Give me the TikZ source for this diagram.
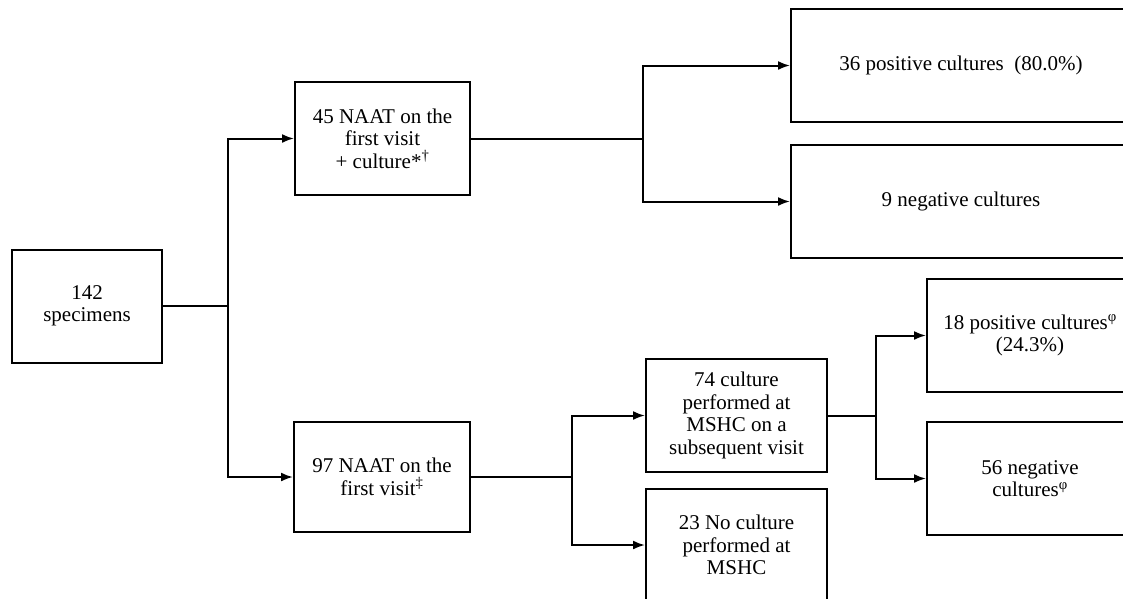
\documentclass[tikz,border=0pt]{standalone}
\usepackage{fontspec}
\setmainfont{Liberation Serif}
\usetikzlibrary{arrows.meta}
\tikzset{
  box/.style={draw, line width=2pt, align=center, inner sep=2pt,
    font=\fontsize{21}{22.5}\selectfont},
  link/.style={line width=2pt},
  arr/.style={link, -{Latex[length=12pt,width=9pt]}}
}
\begin{document}
\begin{tikzpicture}[x=1pt,y=-1pt]
    \useasboundingbox (0,0) rectangle (1123,598);
    \clip (0,0) rectangle (1123,598);

    % Start
    \node[box, minimum width=150pt, minimum height=113pt] (spec) at (87,306) {142\\specimens};

    % First visit branches
    \node[box, minimum width=175pt, minimum height=113pt] (naatA) at (382.5,138.5) {45 NAAT on the\\first visit\\+ culture*\textsuperscript{†}};
    \node[box, minimum width=176pt, minimum height=110pt] (naatB) at (382,477) {97 NAAT on the\\first visit\textsuperscript{‡}};

    % Cultures, upper branch
    \node[box, minimum width=340pt, minimum height=113pt] (posA) at (961,65.5) {36 positive cultures\ \ (80.0\%)};
    \node[box, minimum width=340pt, minimum height=113pt] (negA) at (961,201.5) {9 negative cultures};

    % Subsequent visit
    \node[box, minimum width=181pt, minimum height=113pt] (cult) at (736.5,415.5) {74 culture\\performed at\\MSHC on a\\subsequent visit};
    \node[box, minimum width=181pt, minimum height=113pt] (nocult) at (736.5,545) {23 No culture\\performed at\\MSHC};

    % Cultures, lower branch
    \node[box, minimum width=206pt, minimum height=113pt] (posB) at (1030,335.5) {18 positive cultures\textsuperscript{φ}\\(24.3\%)};
    \node[box, minimum width=206pt, minimum height=113pt] (negB) at (1030,478.5) {56 negative\\cultures\textsuperscript{φ}};

    % Connectors
    \draw[link] (spec.east) -- (228,306) coordinate (jS);
    \draw[arr] (jS) |- (naatA.west);
    \draw[arr] (jS) |- (naatB.west);

    \draw[link] (naatA.east) -- (643,138.5) coordinate (jA);
    \draw[arr] (jA) |- (posA.west);
    \draw[arr] (jA) |- (negA.west);

    \draw[link] (naatB.east) -- (572,477) coordinate (jB);
    \draw[arr] (jB) |- (cult.west);
    \draw[arr] (jB) |- (nocult.west);

    \draw[link] (cult.east) -- (876,415.5) coordinate (jC);
    \draw[arr] (jC) |- (posB.west);
    \draw[arr] (jC) |- (negB.west);
\end{tikzpicture}
\end{document}
